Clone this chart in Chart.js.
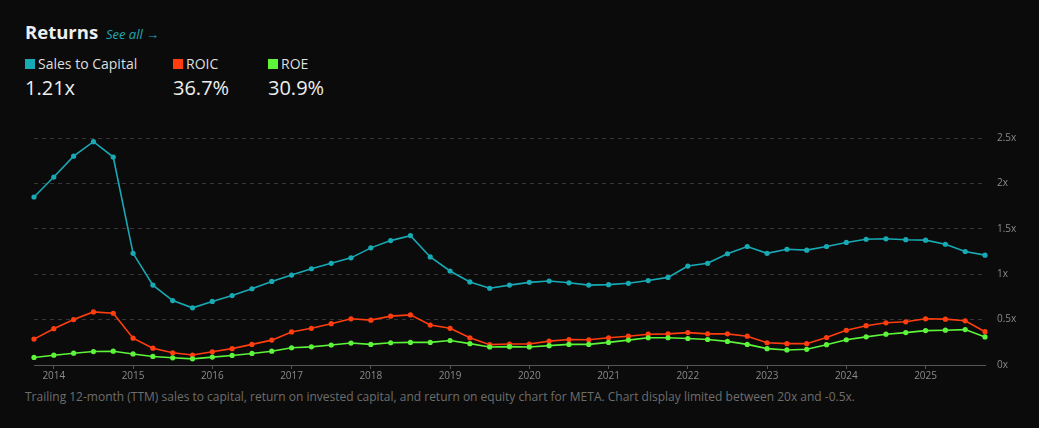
<!DOCTYPE html>
<html>
<head>
<meta charset="utf-8">
<script src="https://cdn.jsdelivr.net/npm/chart.js@4/dist/chart.umd.min.js"></script>
<style>
  html, body { margin:0; padding:0; background:#0b0b0b; }
  body { width:1039px; height:428px; position:relative; overflow:hidden; font-family:"Open Sans", "Noto Sans", sans-serif; color:#e6e6e6; }
  .titulo { position:absolute; left:25px; top:19px; font-size:18.5px; font-weight:700; color:#eeeeee; }
  .titulo a { font-size:13px; font-weight:400; font-style:italic; color:#1fa8b2; margin-left:3px; text-decoration:none; }
  .leyenda { position:absolute; top:54px; }
  .leyenda .nombre { font-size:14px; color:#dedede; display:flex; align-items:center; }
  .leyenda .cuadro { width:10px; height:10px; margin-right:3px; display:inline-block; }
  .leyenda .valor { font-size:20px; color:#eeeeee; margin-top:1px; }
  .grafico { position:absolute; left:0; top:120px; width:1039px; height:265px; }
  .nota { position:absolute; left:25px; top:388px; font-size:12px; color:#6e6e6e; }
</style>
</head>
<body>
<div class="titulo">Returns <a href="#">See all →</a></div>
<div id="leyenda"></div>
<div class="grafico"><canvas id="chart"></canvas></div>
<div class="nota">Trailing 12-month (TTM) sales to capital, return on invested capital, and return on equity chart for META. Chart display limited between 20x and -0.5x.</div>
<script>
// --- Datos ---
const trimestres = [
  '2013 Q4',
  '2014 Q1','2014 Q2','2014 Q3','2014 Q4',
  '2015 Q1','2015 Q2','2015 Q3','2015 Q4',
  '2016 Q1','2016 Q2','2016 Q3','2016 Q4',
  '2017 Q1','2017 Q2','2017 Q3','2017 Q4',
  '2018 Q1','2018 Q2','2018 Q3','2018 Q4',
  '2019 Q1','2019 Q2','2019 Q3','2019 Q4',
  '2020 Q1','2020 Q2','2020 Q3','2020 Q4',
  '2021 Q1','2021 Q2','2021 Q3','2021 Q4',
  '2022 Q1','2022 Q2','2022 Q3','2022 Q4',
  '2023 Q1','2023 Q2','2023 Q3','2023 Q4',
  '2024 Q1','2024 Q2','2024 Q3','2024 Q4',
  '2025 Q1','2025 Q2','2025 Q3','2025 Q4'
];

const salesToCapital = [
  1.85,
  2.07, 2.30, 2.46, 2.29,
  1.23, 0.88, 0.71, 0.63,
  0.70, 0.765, 0.84, 0.92,
  0.99, 1.06, 1.12, 1.18,
  1.29, 1.37, 1.425, 1.19,
  1.035, 0.915, 0.845, 0.88,
  0.91, 0.925, 0.905, 0.88,
  0.885, 0.90, 0.93, 0.965,
  1.09, 1.12, 1.225, 1.305,
  1.23, 1.275, 1.265, 1.305,
  1.35, 1.385, 1.39, 1.38,
  1.375, 1.33, 1.25, 1.21
];

const roic = [
  0.285,
  0.40, 0.50, 0.585, 0.57,
  0.295, 0.185, 0.135, 0.11,
  0.145, 0.18, 0.227, 0.274,
  0.364, 0.404, 0.455, 0.509,
  0.494, 0.538, 0.552, 0.44,
  0.404, 0.30, 0.224, 0.231,
  0.231, 0.263, 0.281, 0.278,
  0.30, 0.317, 0.339, 0.343,
  0.357, 0.343, 0.343, 0.317,
  0.245, 0.235, 0.235, 0.303,
  0.382, 0.433, 0.465, 0.476,
  0.509, 0.505, 0.487, 0.367
];

const roe = [
  0.083,
  0.108, 0.13, 0.148, 0.152,
  0.122, 0.094, 0.079, 0.068,
  0.087, 0.105, 0.127, 0.152,
  0.19, 0.20, 0.22, 0.242,
  0.227, 0.245, 0.249, 0.249,
  0.27, 0.235, 0.198, 0.202,
  0.198, 0.213, 0.227, 0.227,
  0.249, 0.274, 0.30, 0.30,
  0.292, 0.281, 0.26, 0.227,
  0.18, 0.166, 0.173, 0.224,
  0.278, 0.31, 0.339, 0.357,
  0.379, 0.383, 0.39, 0.309
];

const ticksY = [0, 0.5, 1, 1.5, 2, 2.5];

const series = [
  { nombre:'Sales to Capital', datos:salesToCapital, color:'#17aab5', valor:'1.21x', x:25 },
  { nombre:'ROIC', datos:roic, color:'#ff3d0f', valor:'36.7%', x:173 },
  { nombre:'ROE', datos:roe, color:'#5cf53a', valor:'30.9%', x:268 }
];

// --- Leyenda ---
const leyenda = document.getElementById('leyenda');
series.forEach(s=>{
  const div = document.createElement('div');
  div.className = 'leyenda';
  div.style.left = s.x + 'px';
  div.innerHTML = `<div class="nombre"><span class="cuadro" style="background:${s.color}"></span>${s.nombre}</div><div class="valor">${s.valor}</div>`;
  leyenda.appendChild(div);
});

// --- Gráfico ---
const ctx = document.getElementById('chart').getContext('2d');
const myChart = new Chart(ctx, {
  type:'line',
  data:{
    labels:trimestres,
    datasets:series.map(s=>({
      label:s.nombre,
      data:s.datos,
      borderColor:s.color,
      backgroundColor:s.color,
      borderWidth:1.6,
      pointRadius:2.6,
      pointHoverRadius:3,
      pointBorderWidth:0,
      tension:0
    })).reverse()
  },
  options:{
    responsive:true,
    maintainAspectRatio:false,
    animation:false,
    layout:{ padding:{ left:34, top:14, right:0, bottom:0 } },
    plugins:{ legend:{ display:false }, tooltip:{ enabled:false } },
    scales:{
      x:{
        type:'category',
        offset:false,
        border:{ display:true, color:'#555555', width:1 },
        grid:{ drawOnChartArea:false, drawTicks:true, tickLength:4, color:'#555555' },
        ticks:{
          autoSkip:false, maxRotation:0, padding:1,
          color:'#8a8a8a', font:{ family:'"Open Sans", sans-serif', size:10 },
          callback:function(v){ const l = trimestres[v]; return l.endsWith('Q1') ? l.slice(0,4) : null; }
        },
        afterFit:function(scale){ scale.height = 20; }
      },
      y:{
        position:'right',
        min:0, max:2.5,
        afterBuildTicks:function(scale){ scale.ticks = ticksY.map(v=>({ value:v })); },
        border:{ display:false, dash:[4,4] },
        grid:{ color:'#363636', lineWidth:1, drawTicks:false },
        ticks:{
          padding:12, color:'#8a8a8a', font:{ family:'"Open Sans", sans-serif', size:10 },
          callback:function(v){ return v + 'x'; }
        },
        afterFit:function(scale){ scale.width = 54; }
      }
    }
  }
});
</script>
</body>
</html>
